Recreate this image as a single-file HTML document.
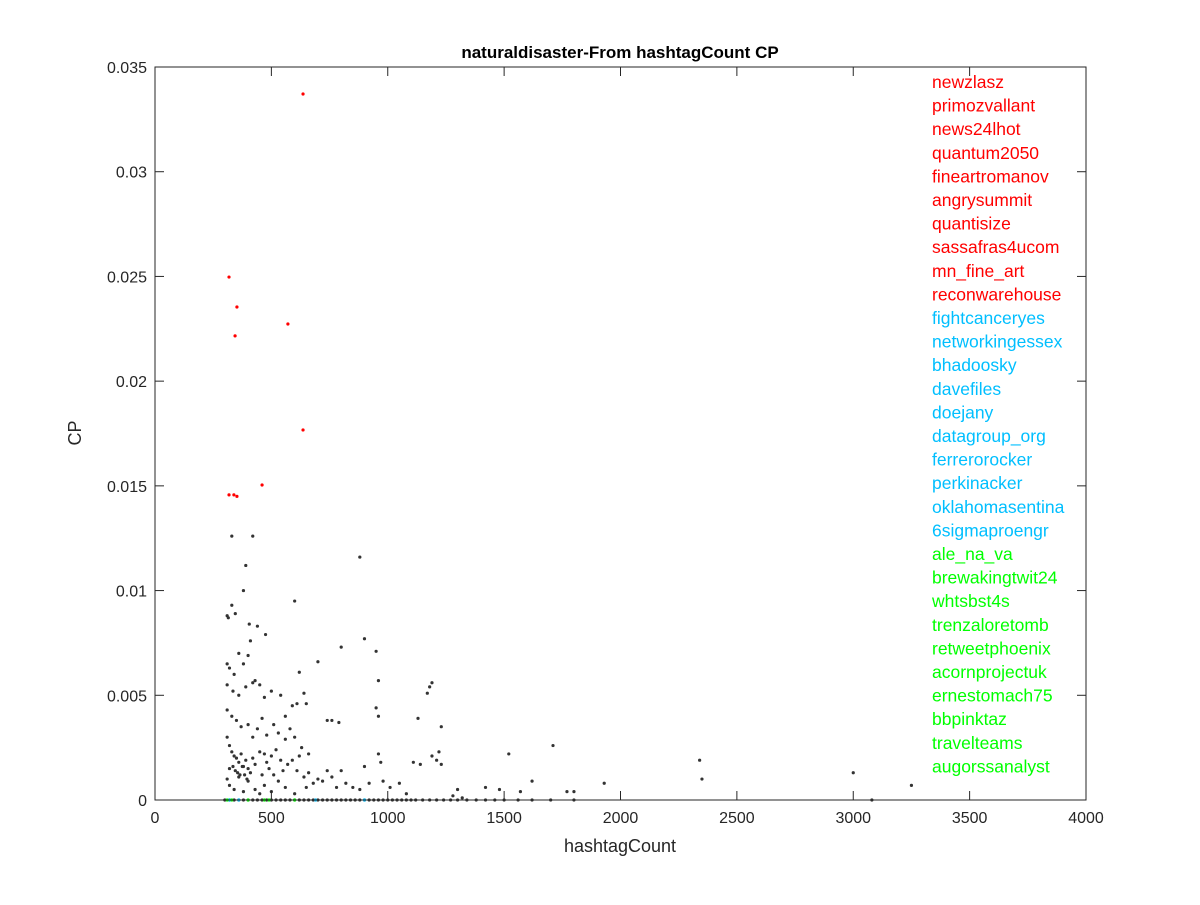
<!DOCTYPE html>
<html><head><meta charset="utf-8"><style>
body{margin:0;background:#fff;}
svg text{font-family:"Liberation Sans",sans-serif;}
</style></head><body>
<svg id="chart" width="1200" height="900" xmlns="http://www.w3.org/2000/svg">
<rect width="1200" height="900" fill="#fff"/>
<g id="marks"></g>
<g id="axes"></g>
<g id="legend"></g>
</svg>
<script>
const xTicks=[0,500,1000,1500,2000,2500,3000,3500,4000];
const yTicks=[0,0.005,0.01,0.015,0.02,0.025,0.03,0.035];
const yTickLabels=["0","0.005","0.01","0.015","0.02","0.025","0.03","0.035"];
const redX=[636,318,352,344,571,636,318,339,352,460];
const redY=[0.03371,0.02497,0.02354,0.02216,0.02273,0.01767,0.01457,0.01457,0.0145,0.01504];
const blackPts=[[330,12.6],[420,12.6],[390,11.2],[880,11.6],[380,10.0],[600,9.5],[330,9.3],[310,8.8],[315,8.7],[345,8.9],[405,8.4],[440,8.3],[475,7.9],[360,7.0],[400,6.9],[410,7.6],[380,6.5],[310,6.5],[320,6.3],[340,6.0],[620,6.1],[700,6.6],[800,7.3],[900,7.7],[950,7.1],[960,5.7],[1170,5.1],[1180,5.4],[1190,5.6],[1130,3.9],[1230,3.5],[310,5.5],[335,5.2],[360,5.0],[390,5.4],[420,5.6],[430,5.7],[450,5.5],[470,4.9],[500,5.2],[540,5.0],[560,4.0],[590,4.5],[610,4.6],[640,5.1],[650,4.6],[740,3.8],[760,3.8],[790,3.7],[950,4.4],[960,4.0],[310,4.3],[330,4.0],[350,3.8],[370,3.5],[400,3.6],[420,3.0],[440,3.4],[460,3.9],[480,3.1],[510,3.6],[530,3.2],[560,2.9],[580,3.4],[600,3.0],[630,2.5],[660,2.2],[310,3.0],[320,2.6],[330,2.3],[340,2.1],[350,2.0],[360,1.8],[370,2.2],[380,1.6],[390,1.9],[400,1.5],[410,1.3],[420,2.0],[430,1.7],[450,2.3],[460,1.2],[470,2.2],[480,1.8],[490,1.5],[500,2.1],[510,1.2],[520,2.4],[540,1.9],[550,1.4],[570,1.7],[590,1.9],[610,1.4],[620,2.1],[640,1.1],[660,1.3],[680,0.8],[700,1.0],[720,0.9],[740,1.4],[760,1.1],[780,0.6],[800,1.4],[820,0.8],[850,0.6],[880,0.5],[900,1.6],[920,0.8],[960,2.2],[970,1.8],[980,0.9],[1010,0.6],[1050,0.8],[1080,0.3],[1110,1.8],[1140,1.7],[1190,2.1],[1210,1.9],[1220,2.3],[1230,1.7],[1280,0.2],[1300,0.5],[1320,0.1],[1420,0.6],[1480,0.5],[1520,2.2],[1570,0.4],[1620,0.9],[1710,2.6],[1770,0.4],[1800,0.4],[1930,0.8],[2340,1.9],[2350,1.0],[3000,1.3],[3250,0.7],[310,1.0],[320,0.7],[340,0.5],[360,1.1],[380,0.4],[400,0.9],[430,0.5],[450,0.3],[470,0.7],[500,0.4],[530,0.9],[560,0.6],[600,0.3],[650,0.6],[320,1.5],[335,1.6],[345,1.4],[355,1.3],[365,1.2],[375,1.6],[385,1.2],[395,1.0]];
const zeroX=[300,320,340,360,380,400,420,440,460,480,500,520,540,560,580,600,620,640,660,680,700,720,740,760,780,800,820,840,860,880,900,920,940,960,980,1000,1020,1040,1060,1080,1100,1120,1150,1180,1210,1240,1270,1300,1340,1380,1420,1460,1500,1560,1620,1700,1800,3080];
const cyanX=[320,360,690,900];
const greenX=[310,330,400,470,490,600];
const legendNames=["newzlasz","primozvallant","news24lhot","quantum2050","fineartromanov","angrysummit","quantisize","sassafras4ucom","mn_fine_art","reconwarehouse","fightcanceryes","networkingessex","bhadoosky","davefiles","doejany","datagroup_org","ferrerorocker","perkinacker","oklahomasentina","6sigmaproengr","ale_na_va","brewakingtwit24","whtsbst4s","trenzaloretomb","retweetphoenix","acornprojectuk","ernestomach75","bbpinktaz","travelteams","augorssanalyst"];
const legendGroup=[0,0,0,0,0,0,0,0,0,0,1,1,1,1,1,1,1,1,1,1,2,2,2,2,2,2,2,2,2,2];

const L=155,R=1086,T=67,B=800;
const sx=v=>L+v/4000*(R-L);
const sy=v=>B-v/0.035*(B-T);
const NS="http://www.w3.org/2000/svg";
function mk(tag,attrs,parent){const e=document.createElementNS(NS,tag);for(const k in attrs)e.setAttribute(k,attrs[k]);parent.appendChild(e);return e;}
const marks=document.getElementById('marks'),axes=document.getElementById('axes'),legend=document.getElementById('legend');
function dot(x,y,c,name){const d=mk('circle',{cx:sx(x),cy:sy(y),r:1.6,fill:c},marks);

}
blackPts.forEach(p=>dot(p[0],p[1]/1000,'#333','point-other'));
zeroX.forEach(x=>dot(x,0,'#333','point-zero'));
redX.forEach((x,i)=>dot(x,redY[i],'#ff0000','point-red'));
cyanX.forEach(x=>dot(x,0,'#00bfff','point-cyan'));
greenX.forEach(x=>dot(x,0,'#00ff00','point-green'));
const box=mk('rect',{x:L,y:T,width:R-L,height:B-T,fill:'none',stroke:'#262626','stroke-width':1},axes);


xTicks.forEach(v=>{const x=sx(v);mk('line',{x1:x,x2:x,y1:B,y2:B-9,stroke:'#262626'},axes);mk('line',{x1:x,x2:x,y1:T,y2:T+9,stroke:'#262626'},axes);
const t=mk('text',{x:x,y:B+23,'text-anchor':'middle','font-size':16,fill:'#262626'},axes);t.textContent=v;

});
yTicks.forEach((v,i)=>{const y=sy(v);mk('line',{x1:L,x2:L+9,y1:y,y2:y,stroke:'#262626'},axes);mk('line',{x1:R,x2:R-9,y1:y,y2:y,stroke:'#262626'},axes);
const t=mk('text',{x:L-8,y:y+6,'text-anchor':'end','font-size':16,fill:'#262626'},axes);t.textContent=yTickLabels[i];

});
const tt=mk('text',{x:620,y:58,'text-anchor':'middle','font-size':17,'font-weight':'bold',fill:'#000'},axes);tt.textContent='naturaldisaster-From hashtagCount CP';


const xt=mk('text',{x:620,y:852,'text-anchor':'middle','font-size':18,fill:'#262626'},axes);xt.textContent='hashtagCount';


const yt=mk('text',{x:0,y:0,'text-anchor':'middle','font-size':18,fill:'#262626',transform:'translate(81,433) rotate(-90)'},axes);yt.textContent='CP';


const cols=['#ff0000','#00bfff','#00ff00'];
legendNames.forEach((n,i)=>{const t=mk('text',{x:932,y:88+i*23.6,'font-size':17.5,fill:cols[legendGroup[i]]},legend);t.textContent=n;

});
</script>
</body></html>
